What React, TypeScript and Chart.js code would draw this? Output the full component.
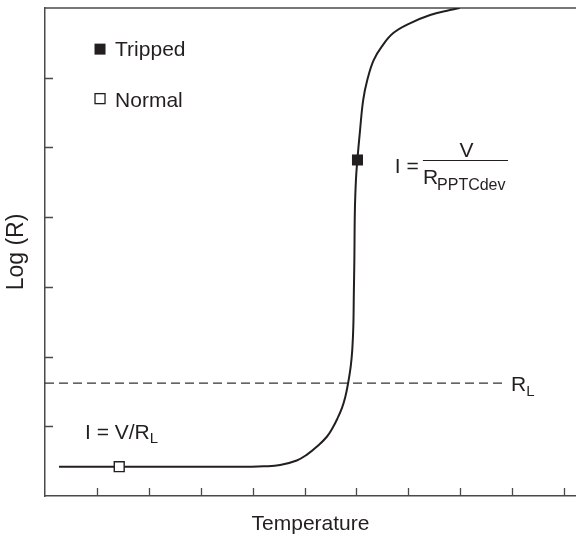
import React, { useEffect, useRef } from "react";
import { Chart, registerables } from "chart.js";

Chart.register(...registerables);

// ---- data ----
const curveX = [0.27, 2.0, 3.4, 3.95, 4.21, 4.53, 4.85, 5.04, 5.24, 5.43, 5.55, 5.62, 5.72, 5.785, 5.84, 5.89, 5.92, 5.94, 5.95, 5.96, 5.97, 5.99, 6.01, 6.07, 6.13, 6.21, 6.33, 6.49, 6.71, 7.03, 7.42, 7.8, 7.99];
const curveY = [0.42, 0.42, 0.42, 0.42, 0.425, 0.445, 0.51, 0.59, 0.71, 0.85, 0.99, 1.09, 1.26, 1.42, 1.62, 1.86, 2.1, 2.43, 2.91, 3.39, 4.1, 4.53, 4.75, 5.25, 5.68, 5.97, 6.25, 6.45, 6.64, 6.78, 6.9, 6.97, 7.0];
const trippedPoint = { x: 6.02, y: 4.82 };
const normalPoint = { x: 1.43, y: 0.42 };
const loadLineX = [0, 8.81];
const loadLineY = 1.62;
const xTicks = [1, 2, 3, 4, 5, 6, 7, 8, 9, 10];
const yTicks = [1, 2, 3, 4, 5, 6];
const legendLabels = ["Tripped", "Normal"];
const xTitle = "Temperature";
const yTitle = "Log (R)";

const INK = "#231f20";
const AXIS = "#4a4a4a";
const FONT = "'Liberation Sans', Arial, Helvetica, sans-serif";

const framePlugin = {
  id: "frame",
  beforeDatasetsDraw(chart: any) {
    const { ctx, chartArea, scales } = chart;
    const { left, right, top, bottom } = chartArea;
    const x = scales.x;
    const y = scales.y;
    ctx.save();
    ctx.strokeStyle = AXIS;
    ctx.lineWidth = 1.5;
    ctx.beginPath();
    ctx.moveTo(left, top);
    ctx.lineTo(right, top);
    ctx.stroke();
    ctx.lineWidth = 1.3;
    ctx.beginPath();
    xTicks.forEach((t) => {
      const px = Math.round(x.getPixelForValue(t)) + 0.5;
      ctx.moveTo(px, bottom);
      ctx.lineTo(px, bottom - 8);
    });
    yTicks.forEach((t) => {
      const py = Math.round(y.getPixelForValue(t)) + 0.5;
      ctx.moveTo(left, py);
      ctx.lineTo(left + 8, py);
    });
    ctx.stroke();
    ctx.restore();
  },
  afterDatasetsDraw(chart: any) {
    const { ctx, scales } = chart;
    const x = scales.x;
    const y = scales.y;
    const sx = (v: number) => x.getPixelForValue(v);
    const sy = (v: number) => y.getPixelForValue(v);
    ctx.save();
    ctx.fillStyle = INK;
    ctx.strokeStyle = INK;
    ctx.textBaseline = "alphabetic";
    ctx.textAlign = "left";

    // legend
    const lx = sx(1.06);
    const ly1 = sy(6.41);
    const ly2 = sy(5.7);
    ctx.fillRect(lx - 5.5, ly1 - 5.5, 11, 11);
    ctx.fillStyle = "#fff";
    ctx.fillRect(lx - 5.5, ly2 - 5.5, 11, 11);
    ctx.lineWidth = 1.3;
    ctx.strokeRect(lx - 5, ly2 - 5, 10, 10);
    ctx.fillStyle = INK;
    ctx.font = `21px ${FONT}`;
    ctx.fillText(legendLabels[0], sx(1.35), sy(6.31));
    ctx.fillText(legendLabels[1], sx(1.35), sy(5.58));

    // I = V/R_L
    const main = "I = V/R";
    let tx = sx(0.77);
    let ty = sy(0.82);
    ctx.font = `21px ${FONT}`;
    ctx.fillText(main, tx, ty);
    let w = ctx.measureText(main).width;
    ctx.font = `15px ${FONT}`;
    ctx.fillText("L", tx + w, ty + 4);

    // formula I = V / R_PPTCdev
    ctx.font = `21px ${FONT}`;
    ctx.fillText("I =", sx(6.74), sy(4.63));
    const fx0 = sx(7.28);
    const fx1 = sx(8.92);
    const fy = Math.round(sy(4.82)) + 0.5;
    ctx.lineWidth = 1.2;
    ctx.beginPath();
    ctx.moveTo(fx0, fy);
    ctx.lineTo(fx1, fy);
    ctx.stroke();
    ctx.textAlign = "center";
    ctx.fillText("V", (fx0 + fx1) / 2 + 1, sy(4.86));
    ctx.textAlign = "left";
    const rx = fx0;
    const ry = sy(4.48);
    ctx.fillText("R", rx, ry);
    w = ctx.measureText("R").width;
    ctx.font = `16px ${FONT}`;
    ctx.fillText("PPTCdev", rx + w - 1, ry + 6);

    // R_L label
    ctx.font = `21px ${FONT}`;
    tx = sx(8.98);
    ty = sy(1.51);
    ctx.fillText("R", tx, ty);
    w = ctx.measureText("R").width;
    ctx.font = `15px ${FONT}`;
    ctx.fillText("L", tx + w, ty + 5);
    ctx.restore();
  },
};

export default function App() {
  const ref = useRef<HTMLCanvasElement | null>(null);
  useEffect(() => {
    if (!ref.current) return;
    Chart.defaults.font.family = FONT;
    const chart = new Chart(ref.current, {
      type: "scatter",
      data: {
        datasets: [
          {
            label: legendLabels[0],
            data: [trippedPoint],
            pointStyle: "rect",
            pointRadius: 7.8,
            backgroundColor: INK,
            borderWidth: 0,
            showLine: false,
          },
          {
            label: legendLabels[1],
            data: [normalPoint],
            pointStyle: "rect",
            pointRadius: 7,
            backgroundColor: "#ffffff",
            borderColor: INK,
            borderWidth: 1.4,
            showLine: false,
          },
          {
            label: "curve",
            data: curveX.map((v, i) => ({ x: v, y: curveY[i] })),
            showLine: true,
            borderColor: INK,
            borderWidth: 2,
            pointRadius: 0,
            tension: 0.4,
            fill: false,
          },
          {
            label: "RL",
            data: loadLineX.map((v) => ({ x: v, y: loadLineY })),
            showLine: true,
            borderColor: "#333",
            borderWidth: 1.3,
            borderDash: [9, 5],
            pointRadius: 0,
            fill: false,
          },
        ],
      },
      options: {
        animation: false,
        responsive: true,
        maintainAspectRatio: false,
        layout: { autoPadding: false, padding: { top: 8, left: 0, right: 0, bottom: 0 } },
        plugins: {
          legend: { display: false },
          tooltip: { enabled: false },
        },
        scales: {
          x: {
            type: "linear",
            min: 0,
            max: 10.23,
            grid: { display: false, drawTicks: false },
            ticks: { display: false, stepSize: 1 },
            border: { display: true, color: AXIS, width: 1.5 },
            title: {
              display: true,
              text: xTitle,
              color: INK,
              font: { size: 21, family: FONT, lineHeight: 1.2 },
              padding: { top: 15.8, bottom: 0 },
            },
          },
          y: {
            type: "linear",
            min: 0,
            max: 7,
            grid: { display: false, drawTicks: false },
            ticks: { display: false, stepSize: 1 },
            border: { display: true, color: AXIS, width: 1.5 },
            title: {
              display: true,
              text: yTitle,
              color: INK,
              font: { size: 23, family: FONT, lineHeight: 1.2 },
              padding: { top: 2.7, bottom: 14.7 },
            },
          },
        },
      },
      plugins: [framePlugin],
    } as any);
    return () => chart.destroy();
  }, []);
  return (
    <div style={{ position: "absolute", left: 0, top: 0, width: 576, height: 537, background: "#fff" }}>
      <canvas ref={ref} />
    </div>
  );
}
